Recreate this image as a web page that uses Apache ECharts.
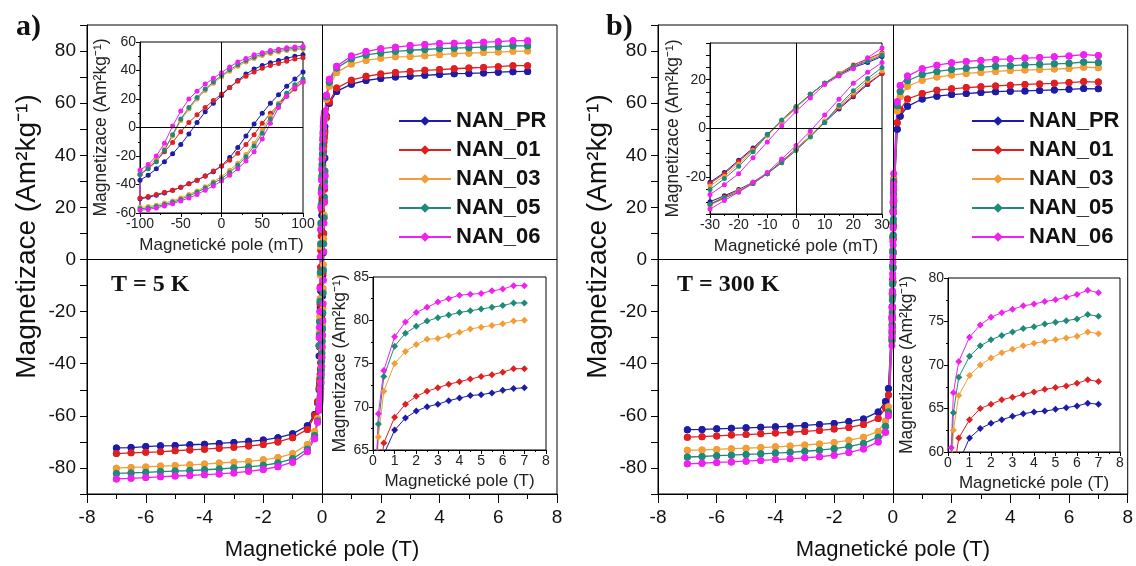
<!DOCTYPE html>
<html>
<head>
<meta charset="utf-8">
<script src="https://cdn.jsdelivr.net/npm/echarts@6/dist/echarts.min.js"></script>
<style>
  html, body { margin: 0; padding: 0; background: #fff; }
  #chart { width: 1136px; height: 566px; }
</style>
</head>
<body>
<div id="chart"></div>
<script>
// Hysteresis loops M(H) of five samples at 5 K and 300 K
const SAMPLES = ['NAN_PR', 'NAN_01', 'NAN_03', 'NAN_05', 'NAN_06'];
const COLORS = ['#1c1ca8', '#e02020', '#f29d35', '#1e8a7c', '#f020f0'];

// High-field points (T), positive field side; negative side uses the same magnitudes
const FIELD_HIGH_T = [7, 6.5, 6, 5.5, 5, 4.5, 4, 3.5, 3, 2.5, 2, 1.5, 1, 0.5, 0.25, 0.15];

// 5 K, magnetization at +FIELD_HIGH_T
const M5K_HIGH_POS = [
  [72.2, 72.1, 71.9, 71.6, 71.4, 71.3, 71.0, 70.7, 70.3, 70.0, 69.5, 68.7, 67.3, 64.5, 60.0, 55.0],
  [74.4, 74.4, 74.0, 73.7, 73.5, 73.2, 72.9, 72.6, 72.2, 71.8, 71.2, 70.3, 68.8, 65.8, 60.5, 54.5],
  [80.0, 79.9, 79.6, 79.4, 79.2, 79.0, 78.6, 78.2, 77.9, 77.8, 77.2, 76.4, 75.0, 71.8, 66.5, 61.5],
  [82.0, 82.0, 81.7, 81.5, 81.3, 81.1, 80.9, 80.6, 80.3, 79.9, 79.3, 78.5, 77.0, 73.5, 68.0, 62.5],
  [84.0, 84.0, 83.6, 83.4, 83.1, 83.0, 82.9, 82.5, 82.1, 81.5, 80.9, 79.8, 78.1, 74.2, 69.2, 63.0]
];
// 5 K, magnetization at -FIELD_HIGH_T
const M5K_HIGH_NEG = [
  [-72.3, -72.2, -71.8, -71.5, -71.4, -71.1, -70.9, -70.6, -70.2, -69.8, -69.3, -68.4, -66.9, -63.8, -59.5, -55.0],
  [-74.5, -74.2, -74.0, -73.8, -73.4, -73.1, -72.8, -72.4, -72.1, -71.6, -71.0, -70.0, -68.4, -65.2, -60.0, -54.5],
  [-80.1, -79.8, -79.6, -79.3, -79.1, -78.8, -78.5, -78.1, -77.8, -77.5, -76.9, -76.0, -74.5, -71.0, -66.0, -61.0],
  [-82.1, -81.9, -81.7, -81.4, -81.2, -81.0, -80.7, -80.4, -80.0, -79.6, -79.0, -78.1, -76.5, -72.8, -67.5, -62.0],
  [-84.2, -84.0, -83.7, -83.4, -83.1, -82.9, -82.6, -82.3, -81.9, -81.3, -80.6, -79.5, -77.8, -73.8, -68.8, -62.5]
];

// 5 K, low-field loop (mT)
const FIELD_LOW_5K_DESC = [100, 90, 80, 70, 60, 50, 40, 30, 20, 10, 0, -10, -20, -30, -40, -50, -60, -70, -80, -90, -100];
const FIELD_LOW_5K_ASC = [-100, -90, -80, -70, -60, -50, -40, -30, -20, -10, 0, 10, 20, 30, 40, 50, 60, 70, 80, 90, 100];
const M5K_LOW_DESC = [
  [51, 50, 48.5, 47, 45.5, 43.5, 41, 37.5, 33, 28, 22.5, 17, 11, 3.5, -4.5, -12, -18.5, -24, -29, -33.5, -37],
  [49, 48, 46.5, 45, 43.5, 41.5, 39, 36, 32.5, 28, 23.5, 19, 14, 9, 3.5, -3, -10.5, -17, -23.5, -28.5, -33],
  [55, 54.5, 54, 53, 52, 50.5, 48.5, 46, 43, 39.5, 35.5, 31, 26, 20, 13, 5, -6, -15, -22, -28, -33],
  [56, 55.5, 55, 54, 53, 51.5, 49.5, 47, 44, 40.5, 36.5, 32, 27, 21, 14, 6, -5, -16, -24, -29, -33],
  [57, 56.5, 56, 55, 54, 52.5, 51, 48.5, 46, 42.5, 38.5, 34.5, 30.5, 25.5, 20, 11.5, 1, -11, -20, -26, -30]
];
const M5K_LOW_ASC = [
  [-50, -49, -47.5, -46, -44, -42, -39.5, -37, -34, -31, -27, -21, -14, -6, 2.5, 10, 17, 23, 29, 34, 39],
  [-49.5, -48.5, -47, -45.5, -44, -42, -39.5, -37, -34, -30.5, -27, -23, -18, -12, -5, 3, 10, 16, 22, 27, 32],
  [-56, -55.5, -54.5, -53, -51.5, -49.5, -47, -44.5, -41.5, -38, -34.5, -30, -25, -19, -11, -2, 8, 17, 24, 29, 33],
  [-57, -56.5, -55.5, -54, -52.5, -50.5, -48, -45.5, -42.5, -39, -36, -31.5, -26.5, -20.5, -13, -4, 6, 16, 24, 30, 34],
  [-58, -57.5, -56.5, -55, -53.5, -51.5, -49.5, -47, -44, -41, -37.5, -33.5, -29, -23.5, -17, -8, 3, 14, 22, 28, 32]
];

// 300 K, magnetization at +FIELD_HIGH_T
const M300K_HIGH_POS = [
  [65.5, 65.6, 65.3, 65.1, 64.9, 64.7, 64.6, 64.4, 64.1, 63.7, 63.3, 62.7, 61.6, 58.8, 55.0, 50.0],
  [68.1, 68.3, 67.9, 67.6, 67.4, 67.2, 66.9, 66.6, 66.3, 66.0, 65.5, 65.0, 63.7, 61.6, 57.5, 52.5],
  [73.6, 73.8, 73.3, 73.1, 72.9, 72.7, 72.5, 72.2, 71.8, 71.4, 70.8, 70.0, 68.8, 66.5, 62.5, 57.0],
  [75.6, 75.8, 75.3, 75.1, 74.9, 74.7, 74.4, 74.2, 73.8, 73.4, 72.9, 72.2, 71.0, 68.6, 64.5, 59.0],
  [78.3, 78.6, 78.1, 77.8, 77.5, 77.3, 77.0, 76.8, 76.4, 76.0, 75.5, 74.6, 73.2, 70.4, 66.8, 60.5]
];
// 300 K, magnetization at -FIELD_HIGH_T
const M300K_HIGH_NEG = [
  [-65.3, -65.2, -65.0, -64.8, -64.6, -64.4, -64.2, -64.0, -63.7, -63.3, -62.9, -62.2, -61.2, -58.5, -54.5, -49.5],
  [-68.2, -68.0, -67.7, -67.4, -67.2, -66.9, -66.6, -66.3, -66.0, -65.6, -65.1, -64.5, -63.3, -61.0, -57.0, -52.0],
  [-73.2, -73.1, -72.9, -72.6, -72.4, -72.2, -71.9, -71.6, -71.2, -70.8, -70.2, -69.4, -68.2, -66.0, -62.0, -56.5],
  [-75.8, -75.6, -75.3, -75.1, -74.8, -74.6, -74.3, -74.0, -73.6, -73.2, -72.6, -71.8, -70.6, -68.2, -64.0, -58.5],
  [-78.4, -78.2, -77.9, -77.7, -77.4, -77.1, -76.8, -76.5, -76.1, -75.7, -75.1, -74.1, -72.7, -70.0, -66.3, -60.0]
];

// 300 K, low-field loop (mT)
const FIELD_LOW_300K_DESC = [30, 25, 20, 15, 10, 5, 0, -5, -10, -15, -20, -25, -30];
const FIELD_LOW_300K_ASC = [-30, -25, -20, -15, -10, -5, 0, 5, 10, 15, 20, 25, 30];
const M300K_LOW_DESC = [
  [29.5, 27, 25, 22, 18.5, 14, 8.5, 3, -2.5, -8, -13, -18, -22],
  [31, 28.5, 26, 22.5, 18.5, 14, 8.5, 3, -3, -8.5, -13.5, -18.5, -22.5],
  [30.5, 28, 25.5, 22.5, 18.5, 14, 8.5, 3, -3, -9, -14.5, -19.5, -23.5],
  [30, 27.5, 25.5, 22, 18.5, 14, 9, 3.5, -2.5, -9.5, -15.5, -20.5, -25],
  [33, 29, 24.5, 21.5, 18, 12.5, 7, 1, -5.5, -12, -18.5, -23, -27]
];
const M300K_LOW_ASC = [
  [-30, -27.5, -25, -22, -18.5, -13.5, -8.5, -3, 2.5, 8, 13, 18, 22.5],
  [-31, -28, -25.5, -22.5, -18.5, -13.5, -8.5, -3, 3, 8.5, 13.5, 18.5, 22.5],
  [-31.5, -28.5, -25.5, -22, -18.5, -14, -8.5, -3, 3, 9, 14.5, 19.5, 23.5],
  [-31, -28.5, -26, -22.5, -18.5, -14, -9, -3.5, 2.5, 9.5, 15.5, 20.5, 25],
  [-33, -29.5, -26, -22, -18, -12.5, -7, -1, 5.5, 12, 18.5, 23, 27]
];

const FONT = "'Liberation Sans', Arial, sans-serif";
const SERIF = "'Liberation Serif', 'Times New Roman', serif";
const INK = '#111';
const Y_NAME = 'Magnetizace (Am²kg⁻¹)';

// full loop in tesla: +7 T -> -7 T -> +7 T
function mainLoop(pos, neg, fDesc, mDesc, fAsc, mAsc) {
  const pts = [];
  const n = FIELD_HIGH_T.length;
  for (let k = 0; k < n; k++) pts.push([FIELD_HIGH_T[k], pos[k]]);
  fDesc.forEach((h, k) => pts.push([h / 1000, mDesc[k]]));
  for (let k = n - 1; k >= 0; k--) pts.push([-FIELD_HIGH_T[k], neg[k]]);
  for (let k = 0; k < n; k++) pts.push([-FIELD_HIGH_T[k], neg[k]]);
  fAsc.forEach((h, k) => pts.push([h / 1000, mAsc[k]]));
  for (let k = n - 1; k >= 0; k--) pts.push([FIELD_HIGH_T[k], pos[k]]);
  return pts;
}
function lowLoop(fDesc, mDesc, fAsc, mAsc) {
  const pts = fDesc.map((h, k) => [h, mDesc[k]]);
  fAsc.forEach((h, k) => pts.push([h, mAsc[k]]));
  return pts;
}
function highBranch(pos) {
  return FIELD_HIGH_T.map((h, k) => [h, pos[k]]);
}

const crossLines = {
  silent: true, symbol: 'none', animation: false,
  label: { show: false },
  lineStyle: { color: '#000', width: 1, type: 'solid' },
  data: [{ xAxis: 0 }, { yAxis: 0 }]
};

function axisBase(extra) {
  return Object.assign({
    type: 'value',
    axisLine: { show: true, onZero: false, lineStyle: { color: '#000', width: 1 } },
    axisTick: { show: true, inside: false, lineStyle: { color: '#000' } },
    splitLine: { show: false },
    nameLocation: 'middle'
  }, extra);
}

function mainX(gi) {
  return axisBase({
    gridIndex: gi, min: -8, max: 8, interval: 2,
    axisTick: { show: true, length: 9, lineStyle: { color: '#000' } },
    minorTick: { show: true, splitNumber: 2, length: 5, lineStyle: { color: '#000' } },
    axisLabel: { fontSize: 19, color: INK, fontFamily: FONT, margin: 14 },
    name: 'Magnetické pole (T)', nameGap: 45,
    nameTextStyle: { fontSize: 22, color: INK, fontFamily: FONT }
  });
}
function mainY(gi) {
  return axisBase({
    gridIndex: gi, min: -90, max: 90, interval: 10,
    axisTick: { show: true, length: 7, lineStyle: { color: '#000' } },
    axisLabel: {
      fontSize: 19, color: INK, fontFamily: FONT, margin: 11,
      formatter: v => (v % 20 === 0 && Math.abs(v) < 90) ? String(v) : ''
    },
    name: Y_NAME, nameGap: 46,
    nameTextStyle: { fontSize: 28, color: INK, fontFamily: FONT, padding: [0, 0, 0, 46] }
  });
}
function insetX(gi, min, max, interval, name, gap) {
  return axisBase({
    gridIndex: gi, min, max, interval,
    axisTick: { show: true, length: 4, lineStyle: { color: '#000' } },
    minorTick: { show: true, splitNumber: 2, length: 2, lineStyle: { color: '#000' } },
    axisLabel: { fontSize: 14, color: '#222', fontFamily: FONT, margin: 4 },
    name, nameGap: gap,
    nameTextStyle: { fontSize: 17, color: '#222', fontFamily: FONT }
  });
}
function insetY(gi, min, max, interval, gap, labelled) {
  return axisBase({
    gridIndex: gi, min, max, interval,
    axisTick: { show: true, length: 4, lineStyle: { color: '#000' } },
    minorTick: { show: !labelled, splitNumber: 2, length: 2, lineStyle: { color: '#000' } },
    axisLabel: {
      fontSize: 14, color: '#222', fontFamily: FONT, margin: 4,
      formatter: labelled ? (v => labelled.indexOf(v) >= 0 ? String(v) : '') : undefined
    },
    name: Y_NAME, nameGap: gap,
    nameTextStyle: { fontSize: 17.5, color: '#222', fontFamily: FONT }
  });
}

const grids = [
  { left: 87, top: 25, width: 470, height: 470 },
  { left: 140, top: 42, width: 163, height: 171 },
  { left: 373, top: 277, width: 173, height: 173 },
  { left: 658, top: 25, width: 471, height: 472 },
  { left: 710, top: 43, width: 172, height: 171 },
  { left: 948, top: 278, width: 172, height: 174 }
].map(g => Object.assign({ show: true, borderColor: '#000', borderWidth: 1, backgroundColor: '#fff', containLabel: false }, g));

const xAxes = [
  mainX(0),
  insetX(1, -100, 100, 50, 'Magnetické pole (mT)', 24),
  insetX(2, 0, 8, 1, 'Magnetické pole (T)', 23),
  mainX(3),
  insetX(4, -30, 30, 10, 'Magnetické pole (mT)', 24),
  insetX(5, 0, 8, 1, 'Magnetické pole (T)', 23)
];
const yAxes = [
  mainY(0),
  insetY(1, -60, 60, 20, 30),
  insetY(2, 65, 85, 5, 24),
  mainY(3),
  insetY(4, -35, 35, 5, 28, [-20, 0, 20]),
  insetY(5, 60, 80, 5, 32)
];

const panels = [
  { main: 0, low: 1, high: 2, pos: M5K_HIGH_POS, neg: M5K_HIGH_NEG,
    fD: FIELD_LOW_5K_DESC, mD: M5K_LOW_DESC, fA: FIELD_LOW_5K_ASC, mA: M5K_LOW_ASC },
  { main: 3, low: 4, high: 5, pos: M300K_HIGH_POS, neg: M300K_HIGH_NEG,
    fD: FIELD_LOW_300K_DESC, mD: M300K_LOW_DESC, fA: FIELD_LOW_300K_ASC, mA: M300K_LOW_ASC }
];

// high-field insets first: their diamond markers are what the legends show
const series = [];
panels.forEach(p => {
  SAMPLES.forEach((name, i) => {
    series.push({
      name, type: 'line', xAxisIndex: p.high, yAxisIndex: p.high,
      data: highBranch(p.pos[i]),
      symbol: 'diamond', symbolSize: 7, showSymbol: true,
      lineStyle: { color: COLORS[i], width: 1 }, itemStyle: { color: COLORS[i] },
      animation: false, clip: true, z: 4
    });
  });
});
panels.forEach(p => {
  SAMPLES.forEach((name, i) => {
    const style = { color: COLORS[i] };
    series.push({
      name, type: 'line', xAxisIndex: p.main, yAxisIndex: p.main,
      data: mainLoop(p.pos[i], p.neg[i], p.fD, p.mD[i], p.fA, p.mA[i]),
      symbol: 'circle', symbolSize: 7, showSymbol: true,
      lineStyle: { color: COLORS[i], width: 1.3 }, itemStyle: style,
      animation: false, clip: true, z: 3,
      markLine: i === 0 ? crossLines : undefined
    });
    series.push({
      name, type: 'line', xAxisIndex: p.low, yAxisIndex: p.low,
      data: lowLoop(p.fD, p.mD[i], p.fA, p.mA[i]),
      symbol: 'circle', symbolSize: 5, showSymbol: true,
      lineStyle: { color: COLORS[i], width: 1 }, itemStyle: style,
      animation: false, clip: true, z: 4,
      markLine: i === 0 ? crossLines : undefined
    });
  });
});

function legendAt(left) {
  return {
    data: SAMPLES, orient: 'vertical', left, top: 105,
    itemWidth: 52, itemHeight: 12, itemGap: 7,
    selectedMode: false,
    textStyle: { fontSize: 22, fontWeight: 'bold', color: INK, fontFamily: FONT, lineHeight: 20 }
  };
}

const textEl = (text, x, y, size) => ({
  type: 'text', left: x, top: y, silent: true,
  style: { text, font: 'bold ' + size + 'px ' + SERIF, fill: '#111' }
});

const chart = echarts.init(document.getElementById('chart'), null, { renderer: 'canvas' });
chart.setOption({
  backgroundColor: '#fff',
  animation: false,
  grid: grids,
  xAxis: xAxes,
  yAxis: yAxes,
  legend: [legendAt(393), legendAt(966)],
  series,
  graphic: [
    textEl('a)', 16, 12, 30),
    textEl('b)', 606, 12, 30),
    textEl('T = 5 K', 111, 273, 24),
    textEl('T = 300 K', 677, 273, 24)
  ]
});
</script>
</body>
</html>
